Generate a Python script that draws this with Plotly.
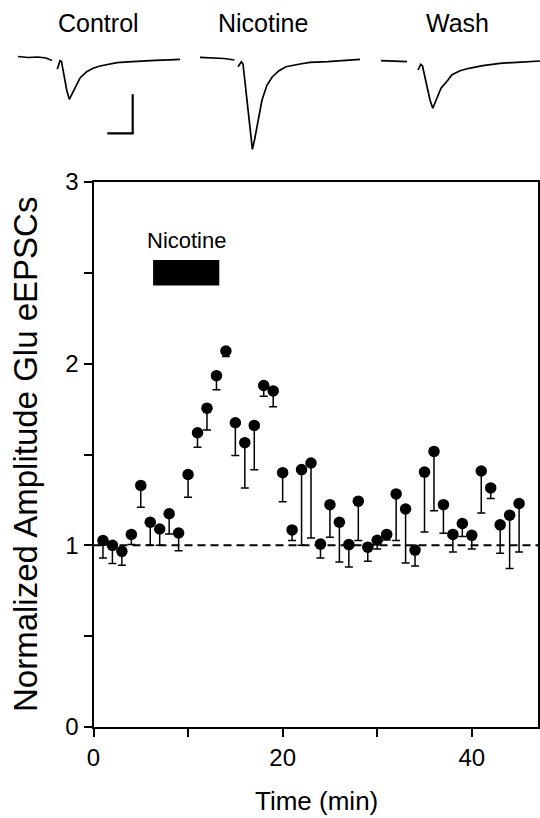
import plotly.graph_objects as go

# ---------------- data ----------------
time_min = list(range(1, 46))
amplitude = [1.026, 1.00, 0.967, 1.06, 1.33, 1.127, 1.09, 1.174, 1.068, 1.39,
             1.62, 1.755, 1.934, 2.07, 1.675, 1.565, 1.66, 1.88, 1.85, 1.40,
             1.085, 1.417, 1.453, 1.007, 1.224, 1.127, 1.004, 1.243, 0.99, 1.028,
             1.06, 1.283, 1.20, 0.974, 1.403, 1.517, 1.224, 1.06, 1.12, 1.055,
             1.409, 1.316, 1.113, 1.166, 1.23]
lower_end = [0.93, 0.90, 0.89, 1.004, 1.21, 1.0, 1.0, 1.062, 0.97, 1.265,
             1.54, 1.635, 1.857, 2.04, 1.495, 1.316, 1.416, 1.82, 1.763, 1.24,
             1.027, 1.0, 1.04, 0.93, 1.045, 0.908, 0.881, 1.026, 0.912, 0.98,
             1.03, 1.026, 0.903, 0.886, 1.073, 1.19, 1.066, 0.963, 1.048, 0.98,
             1.178, 1.258, 0.956, 0.873, 0.963]
err_minus = [a - l for a, l in zip(amplitude, lower_end)]

baseline_level = 1.0
nicotine_start, nicotine_end = 6.3, 13.3

x_ticks = [0, 10, 20, 30, 40]
x_ticktext = ["0", "", "20", "", "40"]
y_ticks = [0, 0.5, 1, 1.5, 2, 2.5, 3]
y_ticktext = ["0", "", "1", "", "2", "", "3"]

# example current traces (samples, panel coordinates)
control_x = [18, 28, 38, 46, 52, None, 57.3, 60, 61.5, 63.3, 66.7, 69.3, 71, 73.3, 76.7, 80, 86.7,
             93, 100, 108, 117, 128, 140, 155, 170, 180]
control_y = [56.5, 57.5, 57, 58, 60.5, None, 69.3, 60.7, 61.5, 72, 90, 99.3, 96, 90, 83.3, 78, 71.7,
             68.3, 66, 64.2, 62.7, 61.8, 61, 60.3, 59.8, 59.3]
nicotine_x = [200, 212, 224, 234.5, None, 238, 241.4, 243, 246, 249.5, 252.4, 254.5, 257, 262, 267,
              272.4, 279, 286, 300, 310, 327.6, 345, 360]
nicotine_y = [57.3, 58, 58.5, 60, None, 66.7, 61.7, 64, 90, 125, 149.3, 140, 126.7, 100, 85,
              76.7, 70.7, 66.7, 64, 62.3, 61.7, 60.7, 59.3]
wash_x = [381, 392, 400, 407, None, 418, 420.7, 422.5, 426, 430, 432.8, 436, 441, 448, 451.7,
          460, 469, 482.8, 500, 517, 540]
wash_y = [60.7, 61, 61.2, 61.7, None, 70, 64.3, 66, 82, 100, 108.3, 100, 88.3, 80, 75,
          70.7, 68.3, 65.7, 63.3, 62.3, 61]
scalebar_x = [107.3, 132.7, 132.7]
scalebar_y = [133.3, 133.3, 94.3]

trace_labels = ["Control", "Nicotine", "Wash"]
trace_label_x = [98, 263, 457]

# ---------------- figure ----------------
W, H = 540, 818
FONT = "Liberation Sans, Arial, Helvetica, sans-serif"
fig = go.Figure()

fig.add_trace(go.Scatter(
    x=time_min, y=amplitude, mode="markers",
    marker=dict(symbol="circle", size=11.5, color="black"),
    error_y=dict(type="data", symmetric=False, array=[0] * len(err_minus),
                 arrayminus=err_minus, color="black", thickness=1.5, width=4),
    xaxis="x", yaxis="y", showlegend=False, hoverinfo="skip"))

for xs, ys in [(control_x, control_y), (nicotine_x, nicotine_y), (wash_x, wash_y),
               (scalebar_x, scalebar_y)]:
    fig.add_trace(go.Scatter(x=xs, y=ys, mode="lines",
                             line=dict(color="black", width=1.7),
                             xaxis="x2", yaxis="y3", showlegend=False,
                             hoverinfo="skip", connectgaps=False))
fig.data[-1].line.width = 2.2

fig.add_shape(type="line", xref="x", yref="y", x0=0, x1=47,
              y0=baseline_level, y1=baseline_level,
              line=dict(color="black", width=2, dash="8px,5px"), layer="below")
fig.add_shape(type="rect", xref="x", yref="y", x0=nicotine_start, x1=nicotine_end,
              y0=2.43, y1=2.57, fillcolor="black", line=dict(width=0))

annotations = [
    dict(text="Nicotine", x=(nicotine_start + nicotine_end) / 2, y=2.68, xref="x", yref="y",
         xanchor="center", yanchor="middle",
         showarrow=False, font=dict(family=FONT, size=22, color="black")),
    dict(text="Normalized Amplitude Glu eEPSCs", x=25 / W, y=(H - 455) / H,
         xref="paper", yref="paper", textangle=-90, showarrow=False,
         xanchor="center", yanchor="middle",
         font=dict(family=FONT, size=33, color="black")),
    dict(text="Time (min)", x=316 / W, y=(H - 801) / H, xref="paper", yref="paper",
         xanchor="center", yanchor="middle",
         showarrow=False, font=dict(family=FONT, size=26, color="black")),
]
for lab, lx in zip(trace_labels, trace_label_x):
    annotations.append(dict(text=lab, x=lx / W, y=(H - 23) / H, xref="paper", yref="paper",
                            xanchor="center", yanchor="middle",
                            showarrow=False, font=dict(family=FONT, size=25, color="black")))

axis_common = dict(showgrid=False, zeroline=False, showline=True, linecolor="black",
                   linewidth=2, ticks="outside", tickcolor="black", tickwidth=1.5,
                   ticklen=8, automargin=False,
                   tickfont=dict(family=FONT, size=24, color="black"))

fig.update_layout(
    width=W, height=H, margin=dict(l=0, r=0, t=0, b=0, pad=0, autoexpand=False),
    showlegend=False,
    paper_bgcolor="white", plot_bgcolor="rgba(0,0,0,0)",
    xaxis=dict(domain=[93.5 / W, 538 / W], range=[0, 47], tickvals=x_ticks,
               ticktext=x_ticktext, mirror=True, anchor="y", **axis_common),
    yaxis=dict(domain=[(H - 727) / H, (H - 182) / H], range=[0, 3], tickvals=y_ticks,
               ticktext=y_ticktext, mirror=True, anchor="x", **axis_common),
    yaxis2=dict(overlaying="y", side="right", anchor="x", range=[0, 3],
                tickvals=[0.5, 1, 1.5, 2, 2.5], ticks="inside", ticklen=7,
                tickwidth=1.5, tickcolor="black", showticklabels=False,
                showgrid=False, zeroline=False, showline=False, automargin=False),
    xaxis2=dict(domain=[0, 1], range=[0, W], visible=False, anchor="y3"),
    yaxis3=dict(domain=[0, 1], range=[H, 0], visible=False, anchor="x2"),
    annotations=annotations,
)

fig.write_html("out.html")
